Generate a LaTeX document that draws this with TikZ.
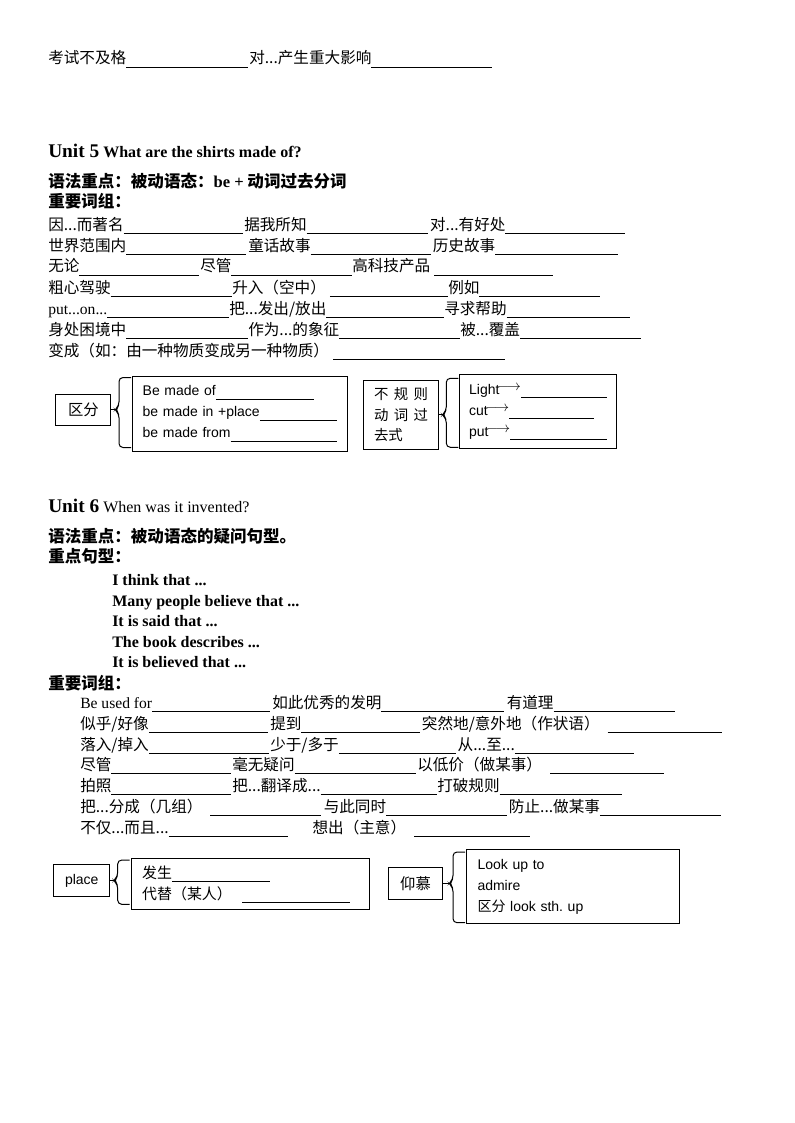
\documentclass[tikz,border=0pt]{standalone}
\usepackage{fontspec}
\setmainfont{Liberation Serif}
\newfontfamily\cjk{Noto Sans CJK SC}
\newfontfamily\boxsans{Liberation Sans}
\usetikzlibrary{positioning}
% blank to fill in: #1 = width in px (text + line), #2 = text
\newcommand\fb[2]{\makebox[\dimexpr0.75pt*#1\relax][s]{#2\leaders\hrule height -2pt depth 2.6pt\hfill}}
\newcommand\ptarrow{\kern-1.5pt\raisebox{2.5pt}{$\longrightarrow$}}
% curly bracket in front of box #1, pointing at label #2; #3/#4 = top/bottom inset
\newcommand\bracket[4]{%
    \coordinate (#1tip) at (#1.west |- #2.east);
    \draw[bracket] ([shift={(-0.75pt,-#3)}]#1.north west) -- ++(-9pt,0)
        -- ([shift={(-9.75pt,3pt)}]#1tip) -- ([xshift=-12.75pt]#1tip)
        -- ([shift={(-9.75pt,-3pt)}]#1tip)
        -- ([shift={(-9.75pt,#4)}]#1.south west) -- ([shift={(-0.75pt,#4)}]#1.south west);
    \draw[line width=0.75pt] (#2.east) -- ([xshift=-12.75pt]#1tip);}
\tikzset{
    phrase/.style={anchor=base west, inner sep=0pt, font=\cjk\fontsize{11.7}{14}\selectfont},
    heading/.style={anchor=base west, inner sep=0pt, font=\cjk\bfseries\fontsize{12.4}{15}\selectfont},
    entitle/.style={anchor=base west, inner sep=0pt, font=\bfseries\fontsize{12}{14}\selectfont},
    tag/.style={draw, line width=0.75pt, inner sep=0pt, font=\cjk\fontsize{11.5}{14}\selectfont},
    listbox/.style={draw, line width=0.75pt, anchor=north west, align=left, inner ysep=0pt, font=\boxsans\fontsize{10.5}{15.75}\selectfont},
    bracket/.style={line width=0.75pt, rounded corners=3pt},
}
\begin{document}
\begin{tikzpicture}[x=0.75pt, y=-0.75pt]
\useasboundingbox (0,0) rectangle (794,1123);

% top line
\node[phrase] (fail) at (48,64) {\fb{200}{考试不及格}};
\node[phrase] (affect) at (249,64) {\fb{243}{对...产生重大影响}};

% Unit 5
\node[entitle] (unit5) at (48,158) {{\fontsize{14.5}{16}\selectfont Unit 5} What are the shirts made of?};
\node[heading] (gram5) at (48,188) {语法重点：被动语态：{\rmfamily be +} 动词过去分词};
\node[heading] (words5) at (48,208) {重要词组：};

\node[phrase] (famous) at (48,230) {\fb{195}{因...而著名}};
\node[phrase] (asknow) at (244,230) {\fb{184}{据我所知}};
\node[phrase] (goodfor) at (429.8,230) {\fb{195}{对...有好处}};
\node[phrase] (world) at (48,251) {\fb{198}{世界范围内}};
\node[phrase] (fairy) at (248,251) {\fb{183}{童话故事}};
\node[phrase] (history) at (432.6,251) {\fb{185}{历史故事}};
\node[phrase] (nomatter) at (48,272) {\fb{151}{无论}};
\node[phrase] (though) at (200,272) {\fb{152}{尽管}};
\node[phrase] (hitech) at (352,272) {\fb{201}{高科技产品\hspace{3pt}}};
\node[phrase] (careless) at (48,293) {\fb{184}{粗心驾驶}};
\node[phrase] (rise) at (232,293) {\fb{216}{升入（空中）\hspace{3pt}}};
\node[phrase] (forexample) at (448,293) {\fb{152}{例如}};
\node[phrase] (puton) at (48,314) {\fb{181}{{\rmfamily put...on...}}};
\node[phrase] (giveoff) at (229,314) {\fb{215}{把...发出/放出}};
\node[phrase] (askhelp) at (444,314) {\fb{186}{寻求帮助}};
\node[phrase] (trouble) at (48,335) {\fb{200}{身处困境中}};
\node[phrase] (symbol) at (248,335) {\fb{212}{作为...的象征}};
\node[phrase] (cover) at (460,335) {\fb{181}{被...覆盖}};
\node[phrase] (turninto) at (48,356) {\fb{457}{变成（如：由一种物质变成另一种物质）\hspace{3pt}}};

\node[listbox, minimum width=161.25pt, minimum height=56.25pt, text width=146pt, inner xsep=7.6pt] (madebox) at (132,375.5)
    {\fb{171}{Be made of}\\ \fb{194}{be made in +place}\\ \fb{194}{be made from}};
\node[tag, minimum width=41.25pt, minimum height=23.25pt] (qufen) [left=15.5pt of madebox, yshift=2.8pt] {区分};
\node[listbox, font=\cjk\fontsize{10.8}{15.4}\selectfont, minimum width=56.25pt, minimum height=51.4pt, text width=40.5pt, inner xsep=7.875pt] (irregular) at (363,380)
    {\makebox[40.5pt][s]{不\hfill 规\hfill 则}\\ \makebox[40.5pt][s]{动\hfill 词\hfill 过}\\ 去式};
\node[listbox, minimum width=117.5pt, minimum height=55.5pt, text width=103.5pt, inner xsep=7pt] (pastbox) at (459.3,374.3)
    {\fb{138}{Light\ptarrow}\\ \fb{125}{cut\ptarrow}\\ \fb{138}{put\ptarrow}};
\bracket{madebox}{qufen}{1.5pt}{3pt}
\bracket{pastbox}{irregular}{3pt}{1.5pt}

% Unit 6
\node[entitle] (unit6) at (48,512) {{\fontsize{14.5}{16}\selectfont Unit 6} {\mdseries When was it invented?}};
\node[heading] (gram6) at (48,542) {语法重点：被动语态的疑问句型。};
\node[heading] (sent6) at (48,562) {重点句型：};
\node[entitle] (think) at (112,585) {I think that ...};
\node[entitle] (believe) at (112,606) {Many people believe that ...};
\node[entitle] (said) at (112,626.5) {It is said that ...};
\node[entitle] (describe) at (112,647) {The book describes ...};
\node[entitle] (believed) at (112,667.5) {It is believed that ...};
\node[heading] (words6) at (48,689) {重要词组：};

\node[phrase] (usedfor) at (80,708) {\fb{190}{{\rmfamily Be used for}}};
\node[phrase] (invention) at (272,708) {\fb{232}{如此优秀的发明}};
\node[phrase] (sense) at (506.5,708) {\fb{168}{有道理}};
\node[phrase] (seem) at (80,729) {\fb{188}{似乎/好像}};
\node[phrase] (mention) at (270,729) {\fb{150}{提到}};
\node[phrase] (sudden) at (421.7,729) {\fb{300}{突然地/意外地（作状语）\hspace{6pt}}};
\node[phrase] (fallinto) at (80,750) {\fb{189}{落入/掉入}};
\node[phrase] (lessmore) at (270,750) {\fb{186}{少于/多于}};
\node[phrase] (fromto) at (457.4,750) {\fb{176}{从...至...}};
\node[phrase] (despite) at (80,770.5) {\fb{151}{尽管}};
\node[phrase] (nodoubt) at (232,770.5) {\fb{184}{毫无疑问}};
\node[phrase] (lowprice) at (417,770.5) {\fb{247}{以低价（做某事）\hspace{6pt}}};
\node[phrase] (photo) at (80,791) {\fb{151}{拍照}};
\node[phrase] (translate) at (232,791) {\fb{205}{把...翻译成...}};
\node[phrase] (breakrule) at (437,791) {\fb{185}{打破规则}};
\node[phrase] (divide) at (80,812) {\fb{241}{把...分成（几组）\hspace{6pt}}};
\node[phrase] (meanwhile) at (323.5,812) {\fb{183}{与此同时}};
\node[phrase] (prevent) at (508.7,812) {\fb{212}{防止...做某事}};
\node[phrase] (notonly) at (80,833) {\fb{208}{不仅...而且...}};
\node[phrase] (comeup) at (312.3,833) {\fb{217}{想出（主意）\hspace{6pt}}};

\node[listbox, font=\cjk\fontsize{11.2}{15.75}\selectfont, minimum width=179pt, minimum height=38.25pt, text width=162.5pt, inner xsep=8.25pt] (occbox) at (130.7,858.3)
    {\fb{128}{发生}\\ \fb{208}{代替（某人）\hspace{8pt}}};
\node[tag, minimum width=42pt, minimum height=24pt, font=\boxsans\fontsize{10.5}{12}\selectfont] (place) [left=15.3pt of occbox, yshift=2.85pt] {place};
\node[listbox, minimum width=159.75pt, minimum height=55.5pt, text width=143.25pt, inner xsep=8.25pt] (lookbox) at (466,849)
    {Look up to\\ admire\\ {\cjk 区分} look sth.\ up};
\node[tag, minimum width=40.5pt, minimum height=24pt] (yangmu) [left=17.25pt of lookbox, yshift=2.25pt] {仰慕};
\bracket{occbox}{place}{1.3pt}{4.5pt}
\bracket{lookbox}{yangmu}{2.25pt}{1pt}
\end{tikzpicture}
\end{document}
